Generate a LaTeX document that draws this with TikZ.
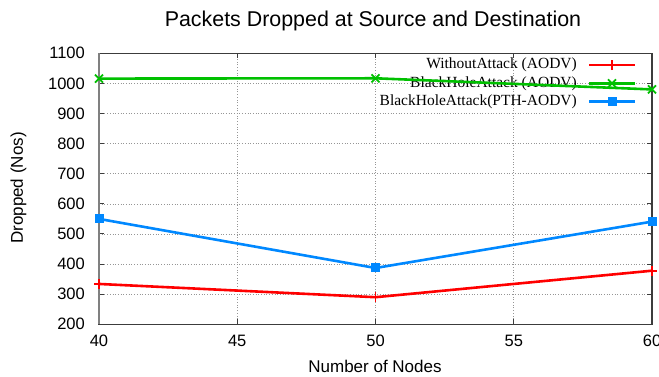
\documentclass[tikz,border=0pt]{standalone}
\usepackage{fontspec}
\setmainfont{Liberation Serif}
\setsansfont{Liberation Sans}
\definecolor{serA}{RGB}{255,0,0}
\definecolor{serB}{RGB}{0,192,0}
\definecolor{serC}{RGB}{0,136,255}
\definecolor{frame}{RGB}{60,60,60}
\definecolor{gridc}{RGB}{150,150,150}
\tikzset{
  ticklab/.style={font=\sffamily\fontsize{16.5}{18}\selectfont, inner sep=0pt},
  axlab/.style={font=\sffamily\fontsize{17}{19}\selectfont, inner sep=0pt},
  legtext/.style={font=\rmfamily\fontsize{15.5}{17}\selectfont, inner sep=0pt, anchor=east},
  gridline/.style={gridc, dotted, line width=0.7pt},
  tickmark/.style={frame, line width=1pt},
  series/.style={line width=2.6pt, line join=miter},
  plusmark/.style={line width=1.8pt},
  crossmark/.style={line width=1.8pt},
}
\begin{document}
\begin{tikzpicture}[x=1pt,y=1pt]
\useasboundingbox (0,0) rectangle (659,376);

% title and axis titles
\node[font=\sffamily\fontsize{21.4}{23}\selectfont, anchor=base, inner sep=0pt] (title) at (373,350) {Packets Dropped at Source and Destination};
\node[axlab, rotate=90] (ylab) at (18.5,188) {Dropped (Nos)};
\node[axlab] (xlab) at (375,10) {Number of Nodes};

% plot area: x 40..60 -> 99..652, y 200..1100 -> 51.7..322.7
\begin{scope}[shift={(99,51.7)}, x=27.65pt, y=0.30111pt]
\begin{scope}[shift={(-40,-200)}]
  % grid
  \foreach \gx in {45,50,55}
    \draw[gridline] (\gx,200) -- (\gx,1100);
  \foreach \gy in {300,400,...,1000}
    \draw[gridline] (40,\gy) -- (60,\gy);
  % tick marks on all four sides
  \foreach \gx in {45,50,55} {
    \draw[tickmark] (\gx,200) -- ([yshift=5pt]\gx,200);
    \draw[tickmark] (\gx,1100) -- ([yshift=-5pt]\gx,1100);
  }
  \foreach \gy in {300,400,...,1000} {
    \draw[tickmark] (40,\gy) -- ([xshift=5pt]40,\gy);
    \draw[tickmark] (60,\gy) -- ([xshift=-5pt]60,\gy);
  }
  % frame
  \draw[frame, line width=1.1pt] (40,200) rectangle (60,1100);
  \draw[gray, line width=1.8pt] (40,200) -- (40,1100);
  % tick labels
  \foreach \gy in {200,300,...,1100}
    \node[ticklab, anchor=east] (yt\gy) at ([xshift=-14pt]40,\gy) {\gy};
  \foreach \gx in {40,45,50,55,60}
    \node[ticklab] (xt\gx) at ([yshift=-17pt]\gx,200) {\gx};

  % data points
  \coordinate (a1) at (40,334);  \coordinate (a2) at (50,290);  \coordinate (a3) at (60,378);
  \coordinate (b1) at (40,1016); \coordinate (b2) at (50,1017); \coordinate (b3) at (60,980);
  \coordinate (c1) at (40,550);  \coordinate (c2) at (50,387);  \coordinate (c3) at (60,541);
\end{scope}
\end{scope}

% legend
\node[legtext] (la) at (577,311) {WithoutAttack (AODV)};
\node[legtext] (lb) at (577,292.7) {BlackHoleAttack (AODV)};
\node[legtext] (lc) at (577,274.3) {BlackHoleAttack(PTH-AODV)};
\coordinate (la0) at (589,311);   \coordinate (la1) at (635,311);   \coordinate (lam) at (612,311);
\coordinate (lb0) at (589,292.7); \coordinate (lb1) at (635,292.7); \coordinate (lbm) at (612,292.7);
\coordinate (lc0) at (589,274.3); \coordinate (lc1) at (635,274.3); \coordinate (lcm) at (612,274.3);

\draw[serA, series] (la0) -- (la1);
\draw[serA, plusmark] ([yshift=-5pt]lam) -- ([yshift=5pt]lam) ([xshift=-5pt]lam) -- ([xshift=5pt]lam);
\draw[serB, series] (lb0) -- (lb1);
\draw[serB, crossmark] ([shift={(-4pt,-4pt)}]lbm) -- ([shift={(4pt,4pt)}]lbm) ([shift={(-4pt,4pt)}]lbm) -- ([shift={(4pt,-4pt)}]lbm);
\draw[serC, series] (lc0) -- (lc1);
\fill[serC] ([shift={(-4.5pt,-4.5pt)}]lcm) rectangle ([shift={(4.5pt,4.5pt)}]lcm);

% series
\draw[serA, series] (a1) -- (a2) -- (a3);
\foreach \p in {a1,a2,a3}
  \draw[serA, plusmark] ([yshift=-5pt]\p) -- ([yshift=5pt]\p) ([xshift=-5pt]\p) -- ([xshift=5pt]\p);
\draw[serB, series] (b1) -- (b2) -- (b3);
\foreach \p in {b1,b2,b3}
  \draw[serB, crossmark] ([shift={(-4pt,-4pt)}]\p) -- ([shift={(4pt,4pt)}]\p) ([shift={(-4pt,4pt)}]\p) -- ([shift={(4pt,-4pt)}]\p);
\draw[serC, series] (c1) -- (c2) -- (c3);
\foreach \p in {c1,c2,c3}
  \fill[serC] ([shift={(-4.5pt,-4.5pt)}]\p) rectangle ([shift={(4.5pt,4.5pt)}]\p);
\end{tikzpicture}
\end{document}
